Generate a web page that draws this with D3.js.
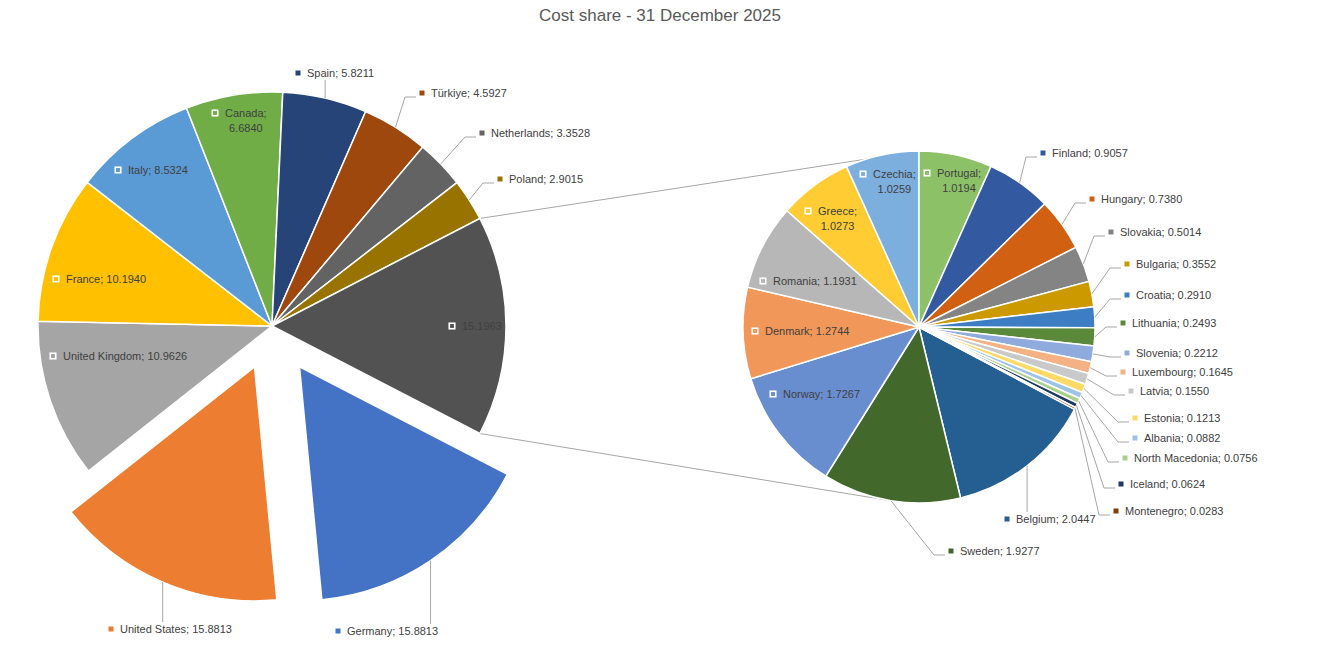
<!DOCTYPE html>
<html>
<head>
<meta charset="utf-8">
<title>Cost share - 31 December 2025</title>
<style>
  body { margin: 0; background: #fff; }
  svg { display: block; font-family: "Liberation Sans", Arial, sans-serif; }
  .title { font-size: 17px; fill: #595959; }
  .label text { font-size: 11px; fill: #404040; }
  .leader { fill: none; stroke: #a6a6a6; stroke-width: 1px; }
  .connector { fill: none; stroke: #a6a6a6; stroke-width: 1px; }
  .slice { stroke: #fff; stroke-width: 1.5px; }
</style>
<script src="https://cdn.jsdelivr.net/npm/d3@7"></script>
</head>
<body>
<script>
  // main pie points (the rest is grouped into "Other")
  var mainNames = ['Germany', 'United States', 'United Kingdom', 'France', 'Italy', 'Canada',
    'Spain', 'Türkiye', 'Netherlands', 'Poland'];
  var mainValues = [15.8813, 15.8813, 10.9626, 10.1940, 8.5324, 6.6840, 5.8211, 4.5927, 3.3528, 2.9015];

  // secondary pie points
  var subNames = ['Belgium', 'Sweden', 'Norway', 'Denmark', 'Romania', 'Greece', 'Czechia', 'Portugal',
    'Finland', 'Hungary', 'Slovakia', 'Bulgaria', 'Croatia', 'Lithuania', 'Slovenia', 'Luxembourg',
    'Latvia', 'Estonia', 'Albania', 'North Macedonia', 'Iceland', 'Montenegro'];
  var subValues = [2.0447, 1.9277, 1.7267, 1.2744, 1.1931, 1.0273, 1.0259, 1.0194, 0.9057, 0.7380,
    0.5014, 0.3552, 0.2910, 0.2493, 0.2212, 0.1645, 0.1550, 0.1213, 0.0882, 0.0756, 0.0624, 0.0283];

  var title = 'Cost share - 31 December 2025';

  // office palette with its shade variants, in point order
  var palette = ['#4472C4', '#ED7D31', '#A5A5A5', '#FFC000', '#5B9BD5', '#70AD47',
    '#264478', '#9E480E', '#636363', '#997300', '#255E91', '#43682B',
    '#698ED0', '#F1975A', '#B7B7B7', '#FFCD33', '#7CAFDD', '#8CC168',
    '#335AA1', '#D26012', '#848484', '#CC9A00', '#3C7DC4', '#5A8A39',
    '#8FAADC', '#F4B183', '#C9C9C9', '#FFD966', '#9DC3E6', '#A9D18E',
    '#203864', '#843C0C'];
  var otherColor = '#525252';

  var explode = { 'Germany': 0.21, 'United States': 0.19 };

  // label key positions, relative to the pie centre
  var labelPos = {
    'Spain': [26, -253], 'Türkiye': [150, -233], 'Netherlands': [210, -193], 'Poland': [228, -147],
    'Germany': [66, 305], 'United States': [-161, 303], 'Canada': [-57, -213], 'Italy': [-154, -156],
    'France': [-216, -47], 'United Kingdom': [-219, 30], 'Other': [180, 0],
    'Czechia': [-56, -153], 'Portugal': [8, -154], 'Greece': [-111, -116], 'Romania': [-156, -46],
    'Denmark': [-164, 4], 'Norway': [-146, 67], 'Finland': [124, -174], 'Hungary': [173, -128],
    'Slovakia': [192, -95], 'Bulgaria': [208, -63], 'Croatia': [208, -32], 'Lithuania': [204, -4],
    'Slovenia': [208, 26], 'Luxembourg': [204, 45], 'Latvia': [212, 64], 'Estonia': [216, 91],
    'Albania': [216, 111], 'North Macedonia': [206, 131], 'Iceland': [202, 157],
    'Montenegro': [197, 184], 'Belgium': [88, 192], 'Sweden': [32, 224]
  };
  var insideLabels = ['Canada', 'Italy', 'France', 'United Kingdom', 'Other',
    'Czechia', 'Portugal', 'Greece', 'Romania', 'Denmark', 'Norway'];
  var twoLineLabels = ['Canada', 'Czechia', 'Portugal', 'Greece'];

  var W = 1325, H = 654;
  var fmt = d3.format('.4f');

  var svg = d3.select('body').append('svg').attr('width', W).attr('height', H);

  svg.append('text').attr('class', 'title')
    .attr('x', 660).attr('y', 21).attr('text-anchor', 'middle')
    .text(title);

  var main = { cx: 272, cy: 326, r: 234 };
  var sub = { cx: 919, cy: 327, r: 176 };

  var otherValue = d3.sum(subValues);
  var mainRows = mainNames.map(function (n, i) { return { name: n, value: mainValues[i], color: palette[i] }; });
  mainRows.push({ name: 'Other', value: otherValue, color: otherColor, other: true });
  var subRows = subNames.map(function (n, i) {
    return { name: n, value: subValues[i], color: palette[mainNames.length + i] };
  });

  // "Other" faces the secondary pie
  var otherAngle = 2 * Math.PI * otherValue / d3.sum(mainRows, d => d.value);
  var mainStart = Math.PI / 2 + otherAngle / 2;
  var mainArcs = d3.pie().sort(null).value(d => d.value)
    .startAngle(mainStart).endAngle(mainStart + 2 * Math.PI)(mainRows);

  // secondary turned so Portugal starts at 12 o'clock
  var subStart = 2 * Math.PI * d3.sum(subValues.slice(subNames.indexOf('Portugal'))) / otherValue;
  var subArcs = d3.pie().sort(null).value(d => d.value)
    .startAngle(subStart).endAngle(subStart + 2 * Math.PI)(subRows);

  function pt(r, a) { return [r * Math.sin(a), -r * Math.cos(a)]; }
  function mid(d) { return (d.startAngle + d.endAngle) / 2; }
  function shift(pie, d) { return pt((explode[d.data.name] || 0) * pie.r, mid(d)); }

  // connector lines between the pies
  var otherArc = mainArcs[mainArcs.length - 1];
  var conn = [
    [pt(main.r, otherArc.startAngle), pt(sub.r, 0)],
    [pt(main.r, otherArc.endAngle), pt(sub.r, 189 * Math.PI / 180)]
  ];
  svg.selectAll('.connector').data(conn).join('line')
    .attr('class', 'connector')
    .attr('x1', d => main.cx + d[0][0]).attr('y1', d => main.cy + d[0][1])
    .attr('x2', d => sub.cx + d[1][0]).attr('y2', d => sub.cy + d[1][1]);

  function drawPie(pie, arcs) {
    var arc = d3.arc().innerRadius(0).outerRadius(pie.r);
    var g = svg.append('g').attr('transform', 'translate(' + pie.cx + ',' + pie.cy + ')');

    g.selectAll('path').data(arcs).join('path')
      .attr('class', 'slice')
      .attr('fill', d => d.data.color)
      .attr('transform', d => 'translate(' + shift(pie, d) + ')')
      .attr('d', arc);

    var leaders = g.append('g');
    var labels = g.selectAll('.label').data(arcs).join('g').attr('class', 'label');

    labels.each(function (d) {
      var lg = d3.select(this);
      var name = d.data.name;
      var p = labelPos[name];
      var kx = p[0], ky = p[1];
      var inside = insideLabels.indexOf(name) >= 0;
      var two = twoLineLabels.indexOf(name) >= 0;
      var tx = kx + (inside ? 10 : 9);

      if (inside) {
        lg.append('rect').attr('x', kx - 2.75).attr('y', ky - 2.75)
          .attr('width', 5.5).attr('height', 5.5)
          .attr('fill', d.data.color).attr('stroke', '#fff').attr('stroke-width', 1.6);
      } else {
        lg.append('rect').attr('x', kx - 2.5).attr('y', ky - 2.5)
          .attr('width', 5).attr('height', 5).attr('fill', d.data.color);
      }

      var txt = d.data.other ? fmt(d.data.value) : name + '; ' + fmt(d.data.value);
      var width;
      if (two) {
        var l1 = lg.append('text').attr('x', tx).attr('y', ky + 4).text(name + ';');
        width = l1.node().getComputedTextLength();
        lg.append('text').attr('x', tx + width / 2).attr('y', ky + 19)
          .attr('text-anchor', 'middle').text(fmt(d.data.value));
      } else {
        var t = lg.append('text').attr('x', tx).attr('y', ky + 4).text(txt);
        width = t.node().getComputedTextLength();
      }

      if (inside) return;

      // leader from the slice edge to the label
      var s = pt(pie.r, mid(d));
      var o = shift(pie, d);
      s = [s[0] + o[0], s[1] + o[1]];
      var left = kx - 5, right = tx + width, top = ky - 7, bottom = ky + 7;
      var pts;
      if (s[0] >= left && s[0] <= right) {
        pts = [s, [s[0], s[1] < ky ? top : bottom]];
      } else if (s[0] < left) {
        pts = [s, [kx - 17, ky + 4], [kx - 6, ky + 4]];
      } else {
        pts = [s, [right + 12, ky + 4], [right + 2, ky + 4]];
      }
      leaders.append('path').attr('class', 'leader').attr('d', d3.line()(pts));
    });
  }

  drawPie(main, mainArcs);
  drawPie(sub, subArcs);
</script>
</body>
</html>
